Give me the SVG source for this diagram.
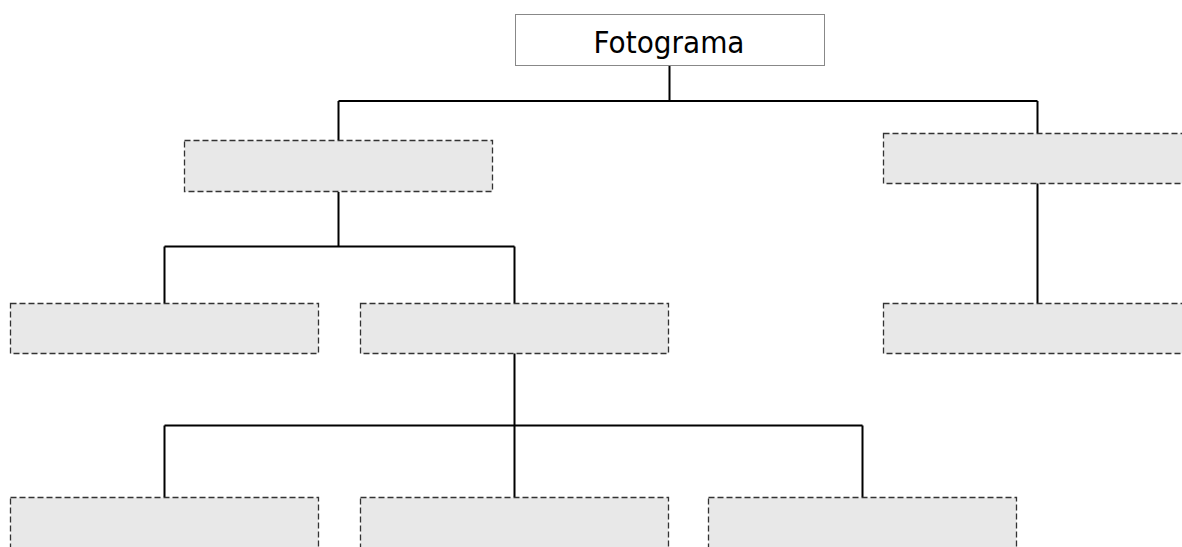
<svg xmlns="http://www.w3.org/2000/svg" width="1182" height="547" viewBox="0 0 1182 547">
<style>
.n{fill:#e8e8e8;stroke:#333;stroke-width:1.3;stroke-dasharray:6,3}
.c{fill:none;stroke:#000;stroke-width:2}
.t{font-family:"DejaVu Sans",sans-serif;font-size:30px;fill:#000;text-anchor:middle}
</style>
<rect width="1182" height="547" fill="#fff"/>
<g id="connectors">
<path class="c" d="M669.5,66V101M338.5,101H1037.5M338.5,101V140M1037.5,101V133"/>
<path class="c" d="M338.5,192V246.5M164.5,246.5H514.5M164.5,246.5V303M514.5,246.5V303"/>
<path class="c" d="M1037.5,183V303"/>
<path class="c" d="M514.5,353V425.5M164.5,425.5H862.5M164.5,425.5V497M514.5,425.5V497M862.5,425.5V497"/>
</g>
<g id="root">
<rect x="515.5" y="14.5" width="309" height="51" fill="#fff" stroke="#888" stroke-width="1"/>
<text class="t" x="669" y="53" textLength="151" lengthAdjust="spacingAndGlyphs">Fotograma</text>
</g>
<g id="n1"><rect class="n" x="184.5" y="140.5" width="308" height="51"/></g>
<g id="n2"><rect class="n" x="883.5" y="133.5" width="308" height="50"/></g>
<g id="n3"><rect class="n" x="10.5" y="303.5" width="308" height="50"/></g>
<g id="n4"><rect class="n" x="360.5" y="303.5" width="308" height="50"/></g>
<g id="n5"><rect class="n" x="883.5" y="303.5" width="308" height="50"/></g>
<g id="n6"><rect class="n" x="10.5" y="497.5" width="308" height="60"/></g>
<g id="n7"><rect class="n" x="360.5" y="497.5" width="308" height="60"/></g>
<g id="n8"><rect class="n" x="708.5" y="497.5" width="308" height="60"/></g>
</svg>
